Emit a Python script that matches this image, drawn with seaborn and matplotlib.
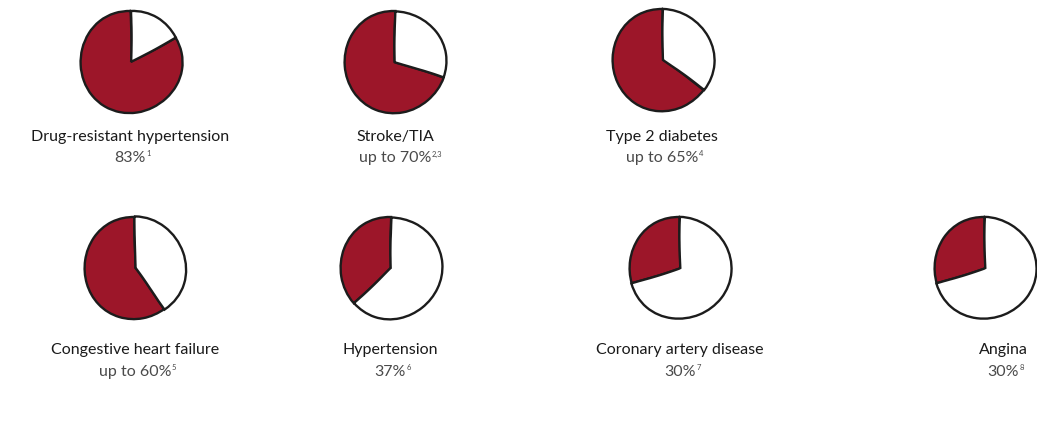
import matplotlib
matplotlib.use("Agg")
import matplotlib.pyplot as plt
import seaborn as sns

# values
conditions = ["Drug-resistant hypertension", "Stroke/TIA", "Type 2 diabetes",
              "Congestive heart failure", "Hypertension", "Coronary artery disease", "Angina"]
prevalence = [83, 70, 65, 60, 37, 30, 30]
value_labels = ["83%", "up to 70%", "up to 65%", "up to 60%", "37%", "30%", "30%"]
refs = ["1", "2,3", "4", "5", "6", "7", "8"]

# layout (pixels, origin top-left)
pie_x = [131, 395, 663, 135, 391, 680, 985]
pie_y = [62, 62, 60, 268, 268, 268, 268]
label_x = [130, 395, 662, 135, 390, 680, 1003]
title_y = [137, 137, 137, 350, 350, 350, 350]
sub_y = [158, 158, 158, 372, 372, 372, 372]
radius = 51

W, H = 1037, 438
red = "#9c1629"

sns.set_theme(style="white")
plt.rcParams['font.family'] = ['Lato', 'DejaVu Sans']

fig = plt.figure(figsize=(W / 100, H / 100), dpi=100)
ax = fig.add_axes([0, 0, 1, 1])

for i in range(len(conditions)):
    p = prevalence[i]
    wedges, _ = ax.pie([p, 100 - p], colors=[red, "white"], startangle=90,
                       counterclock=True, radius=radius,
                       center=(pie_x[i], H - pie_y[i]),
                       wedgeprops=dict(edgecolor="#1c1c1c", linewidth=1.7))
    for w in wedges:
        w.set_sketch_params(0.6, 110, 2)
    ax.text(label_x[i], H - title_y[i], conditions[i], ha="center", va="center",
            fontsize=11.5, color="#1a1a1a")

sub_texts = []
for i in range(len(conditions)):
    t = ax.text(label_x[i], H - sub_y[i], value_labels[i], ha="center", va="center",
                fontsize=11.5, color="#4a4a4a")
    sub_texts.append(t)

ax.set_xlim(0, W)
ax.set_ylim(0, H)
ax.set_aspect("equal")
ax.axis("off")

fig.canvas.draw()
renderer = fig.canvas.get_renderer()
for i, t in enumerate(sub_texts):
    bb = t.get_window_extent(renderer)
    ax.text(bb.x1 + 0.5, bb.y1 + 0.5, refs[i], ha="left", va="top",
            fontsize=5.5, color="#4a4a4a")

fig.savefig("out.png", dpi=100, facecolor="white")
